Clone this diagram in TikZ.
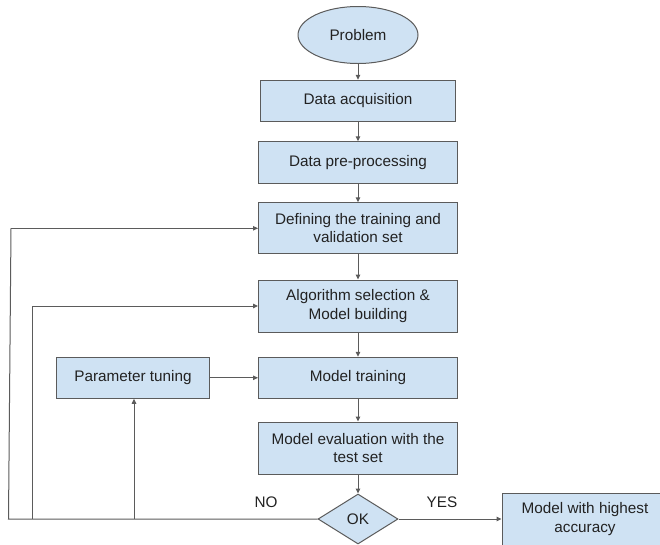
\documentclass[tikz,border=0pt]{standalone}
\usepackage{fontspec}
\setmainfont{Liberation Sans}
\usetikzlibrary{arrows.meta,shapes.geometric}
\definecolor{boxfill}{HTML}{CFE2F3}
\definecolor{boxline}{HTML}{5B5B5B}
\definecolor{txt}{HTML}{222222}
\begin{document}
\begin{tikzpicture}[x=1pt,y=-1pt,
  font=\fontsize{15.3}{18.3}\selectfont,
  box/.style={draw=boxline, fill=boxfill, line width=1pt, inner sep=0pt, align=center, text=txt},
  conn/.style={draw=boxline, line width=1pt, -{Triangle[length=5pt,width=4.5pt]}},
  plain/.style={draw=boxline, line width=1pt},
  lbl/.style={text=txt, inner sep=0pt}]
\useasboundingbox (0,0) rectangle (660,544);
\node[box, ellipse, minimum width=120pt, minimum height=57pt] (prob) at (358,35) {Problem};
\node[box, minimum width=195pt, minimum height=41.5pt] (acq) at (358,101) {Data acquisition};
\node[box, minimum width=199pt, minimum height=41.5pt] (pre) at (358,162.5) {Data pre-processing};
\node[box, minimum width=199pt, minimum height=51pt] (def) at (358,228.3) {Defining the training and\\validation set};
\node[box, minimum width=199pt, minimum height=52pt] (alg) at (358,306) {Algorithm selection \&\\Model building};
\node[box, minimum width=199pt, minimum height=41pt] (train) at (358,377.8) {Model training};
\node[box, minimum width=153pt, minimum height=41pt] (par) at (133,377.8) {Parameter tuning};
\node[box, minimum width=199pt, minimum height=52pt] (eval) at (358,448) {Model evaluation with the\\test set};
\node[box, diamond, aspect=1.6, minimum width=80pt, minimum height=50pt] (ok) at (358,519) {OK};
\node[box, minimum width=166pt, minimum height=52pt] (best) at (585,519) {Model with highest\\accuracy};
\node[lbl] (no) at (266,502) {NO};
\node[lbl] (yes) at (442,502) {YES};
\coordinate (ll) at (8.5,519);
\coordinate (lt) at (11,228.3);
\coordinate (m2b) at (32.5,519);
\coordinate (m2t) at (32.5,306);
\coordinate (m3b) at (134,519);
\draw[conn] (prob) -- (acq);
\draw[conn] (acq) -- (pre);
\draw[conn] (pre) -- (def);
\draw[conn] (def) -- (alg);
\draw[conn] (alg) -- (train);
\draw[conn] (train) -- (eval);
\draw[conn] (eval) -- (ok);
\draw[conn] (par) -- (train);
\draw[conn] (ok) -- (best);
\draw[plain] (ok.west) -- (ll) -- (lt);
\draw[conn] (lt) -- (def.west);
\draw[conn] (m2b) -- (m2t) -- (alg.west);
\draw[conn] (m3b) -- (m3b |- par.south);
\end{tikzpicture}
\end{document}
